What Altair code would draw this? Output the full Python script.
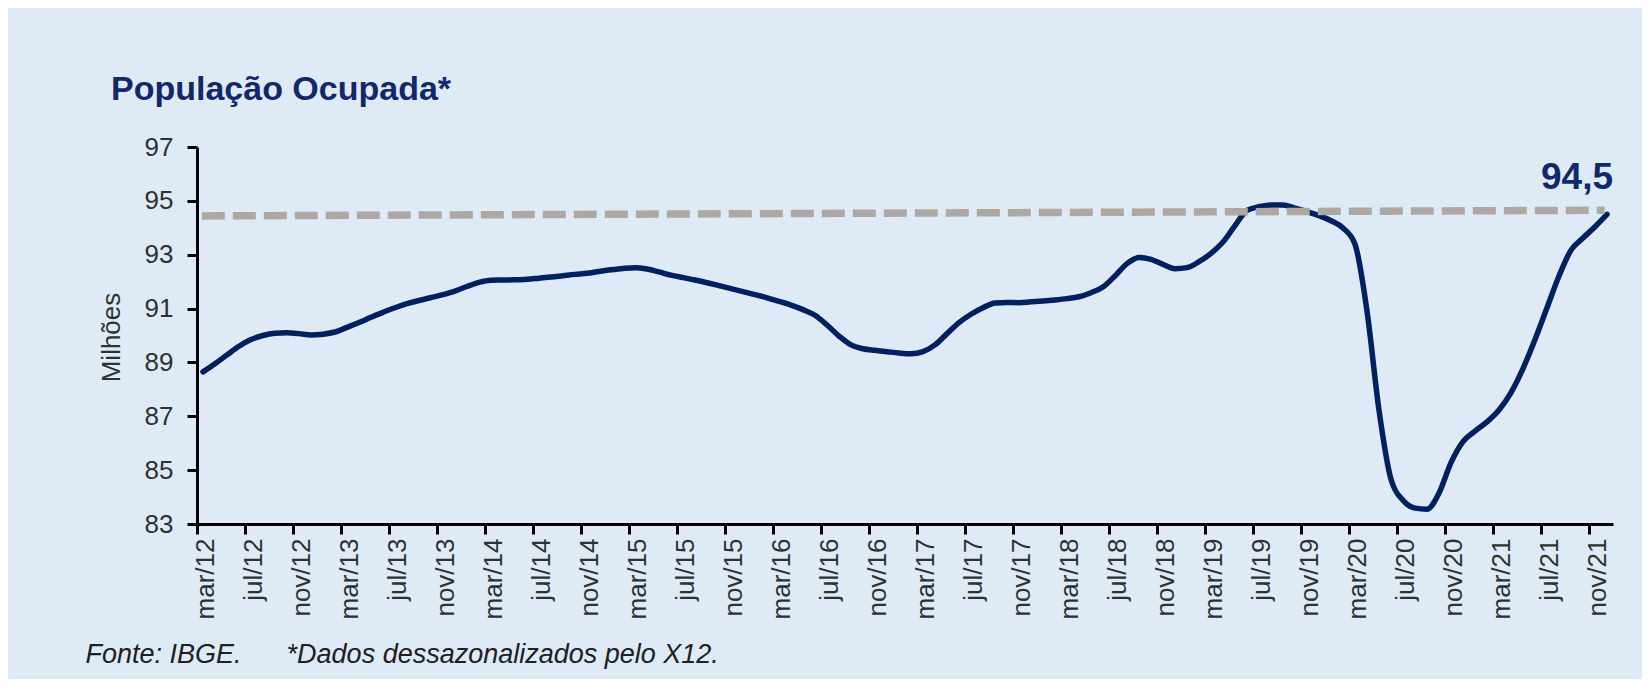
import json
import altair as alt
import pandas as pd

# ---- data (monthly, mar/12 .. dec/21), millions ----
values = [
    88.65, 88.95, 89.28, 89.60, 89.85, 90.00, 90.08, 90.10, 90.07, 90.02,
    90.05, 90.13, 90.30, 90.48, 90.68, 90.86, 91.03, 91.18, 91.30, 91.41,
    91.52, 91.65, 91.82, 91.97, 92.05, 92.06, 92.07, 92.09, 92.13, 92.17,
    92.22, 92.27, 92.31, 92.38, 92.44, 92.49, 92.52, 92.47, 92.36, 92.24,
    92.15, 92.06, 91.96, 91.85, 91.74, 91.63, 91.52, 91.40, 91.27, 91.13,
    90.96, 90.75, 90.39, 89.98, 89.65, 89.51, 89.45, 89.40, 89.35, 89.32,
    89.40, 89.65, 90.07, 90.48, 90.79, 91.03, 91.21, 91.23, 91.22, 91.25,
    91.28, 91.32, 91.37, 91.44, 91.59, 91.80, 92.21, 92.67, 92.90, 92.83,
    92.64, 92.48, 92.52, 92.74, 93.05, 93.47, 94.08, 94.65, 94.78, 94.85,
    94.85, 94.73, 94.60, 94.45, 94.26, 93.99, 93.39, 90.91, 87.23, 84.66,
    83.88, 83.59, 83.55, 84.15, 85.28, 86.06, 86.45, 86.79, 87.23, 87.88,
    88.77, 89.85, 91.03, 92.21, 93.17, 93.62, 94.04, 94.50,
]

tick_labels = [
    "mar/12", "jul/12", "nov/12", "mar/13", "jul/13", "nov/13",
    "mar/14", "jul/14", "nov/14", "mar/15", "jul/15", "nov/15",
    "mar/16", "jul/16", "nov/16", "mar/17", "jul/17", "nov/17",
    "mar/18", "jul/18", "nov/18", "mar/19", "jul/19", "nov/19",
    "mar/20", "jul/20", "nov/20", "mar/21", "jul/21", "nov/21",
]
y_ticks = [83, 85, 87, 89, 91, 93, 95, 97]

# dashed reference level (current level), as drawn in the picture
ref_months = [0.4, 117.3]
ref_values = [94.44, 94.65]

title_text = "População Ocupada*"
y_title = "Milhões"
footer_text = "Fonte: IBGE." + "\u00a0" * 6 + "*Dados dessazonalizados pelo X12."

# ---- tables ----
df = pd.DataFrame({"t": list(range(len(values))), "v": values})
df_ref = pd.DataFrame({"t": ref_months, "v": ref_values})
df_last = pd.DataFrame({
    "t": [len(values) - 1],
    "v": [values[-1]],
    "label": [f"{values[-1]:.1f}".replace(".", ",")],
})

FONT = "Liberation Sans"
NAVY = "#002060"
TITLE_NAVY = "#13286B"
TXT = "#303030"

x_scale = alt.Scale(domain=[0, 118], nice=False, zero=False)
y_scale = alt.Scale(domain=[83, 97], nice=False, zero=False)

x_axis = alt.Axis(
    values=[4 * i for i in range(len(tick_labels))],
    labelExpr=json.dumps(tick_labels) + "[round(datum.value / 4)]",
    labelAngle=-90,
    labelPadding=4,
    labelOffset=8,
    labelOverlap=False,
    labelFlush=False,
    title=footer_text,
    titleFont=FONT,
    titleFontSize=27,
    titleFontStyle="italic",
    titleFontWeight="normal",
    titleColor="#202020",
    titleAngle=0,
    titleAlign="left",
    titleBaseline="alphabetic",
    titleX=-112,
    titleY=138,
)
y_axis = alt.Axis(
    values=y_ticks,
    labelPadding=14,
    title=y_title,
    titleFont=FONT,
    titleFontSize=26,
    titleFontWeight="normal",
    titleColor=TXT,
    titleAngle=-90,
    titleAlign="center",
    titleBaseline="alphabetic",
    titleX=-78,
    titleY=190,
)

base_x = alt.X("pos:Q", scale=x_scale, axis=x_axis)

line = (
    alt.Chart(df)
    .transform_calculate(pos="datum.t + 0.5")
    .mark_line(color=NAVY, strokeWidth=5.5, interpolate="monotone", strokeCap="round")
    .encode(x=base_x, y=alt.Y("v:Q", scale=y_scale, axis=y_axis))
)

ref = (
    alt.Chart(df_ref)
    .mark_line(color="#ADA8A4", strokeWidth=7.5, strokeDash=[23, 8], strokeCap="butt")
    .encode(x=alt.X("t:Q", scale=x_scale), y=alt.Y("v:Q", scale=y_scale))
)

label = (
    alt.Chart(df_last)
    .transform_calculate(pos="datum.t + 0.5")
    .mark_text(
        font=FONT, fontSize=37, fontWeight="bold", color=TITLE_NAVY,
        align="right", baseline="alphabetic", dx=6, dy=-25,
    )
    .encode(x=alt.X("pos:Q", scale=x_scale), y=alt.Y("v:Q", scale=y_scale), text="label:N")
)

chart = (
    alt.layer(line, ref, label)
    .properties(
        width=1416,
        height=377,
        title=alt.TitleParams(
            text=title_text,
            anchor="start",
            frame="group",
            dx=-86,
            offset=0,
            font=FONT,
            fontSize=34,
            fontWeight="bold",
            color=TITLE_NAVY,
            baseline="alphabetic",
        ),
        padding={"left": 189, "top": 139, "right": 29, "bottom": 155},
        autosize=alt.AutoSizeParams(type="none"),
        background="#DEEBF7",
    )
    .configure_view(stroke=None)
    .configure_axis(
        grid=False,
        domainColor="black",
        domainWidth=3,
        tickColor="black",
        tickWidth=3,
        tickSize=10,
        labelFont=FONT,
        labelFontSize=26,
        labelColor=TXT,
    )
)

chart.save("out.html", embed_options={"renderer": "svg", "actions": False})
